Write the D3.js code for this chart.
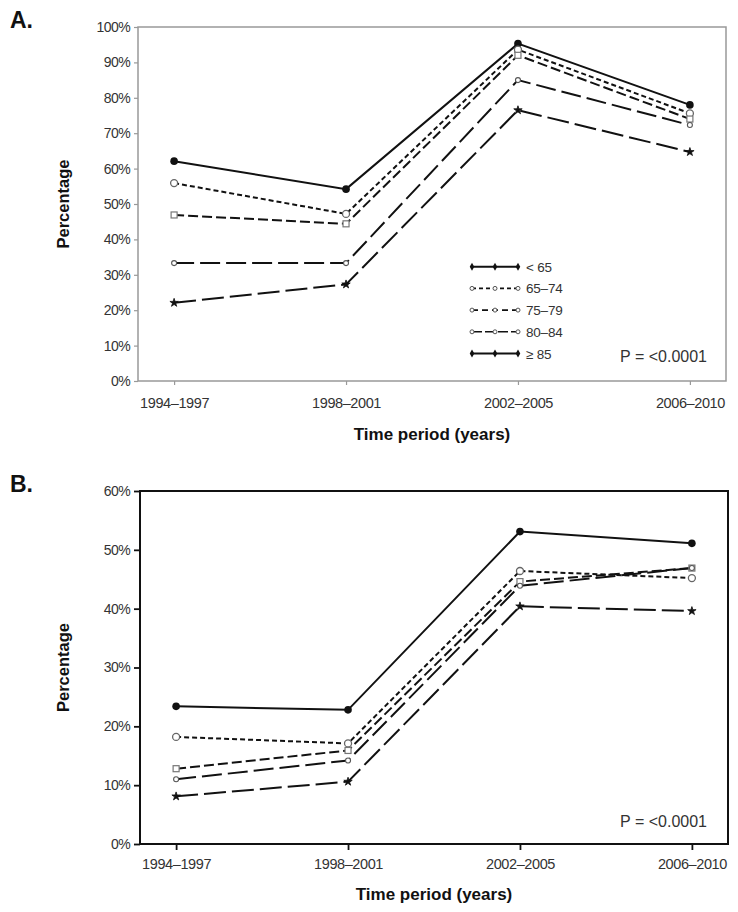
<!DOCTYPE html>
<html><head><meta charset="utf-8">
<script src="https://cdn.jsdelivr.net/npm/d3@7"></script>
<style>
body{margin:0;background:#fff;}
svg{display:block;font-family:"Liberation Sans",Arial,sans-serif;}
</style></head>
<body><svg id="c" width="738" height="912"></svg>
<script>
const periods = ["1994–1997","1998–2001","2002–2005","2006–2010"];
const groups = ["< 65","65–74","75–79","80–84","≥ 85"];
const valuesA_lt65 = [62.1, 54.2, 95.3, 78.0];
const valuesA_65_74 = [55.9, 47.2, 93.6, 75.6];
const valuesA_75_79 = [46.9, 44.4, 92.0, 74.0];
const valuesA_80_84 = [33.3, 33.3, 85.0, 72.3];
const valuesA_ge85 = [22.1, 27.3, 76.5, 64.7];
const valuesB_lt65 = [23.4, 22.8, 53.1, 51.1];
const valuesB_65_74 = [18.2, 17.1, 46.4, 45.2];
const valuesB_75_79 = [12.8, 15.9, 44.6, 46.9];
const valuesB_80_84 = [11.0, 14.2, 43.9, 46.9];
const valuesB_ge85 = [8.1, 10.6, 40.4, 39.6];
const ticksA = [0,10,20,30,40,50,60,70,80,90,100];
const ticksB = [0,10,20,30,40,50,60];
const pText = "P = <0.0001";

const styles = [
  {dash:null, marker:"fcircle"},
  {dash:"5,3", marker:"ocircle"},
  {dash:"10,4", marker:"osquare"},
  {dash:"20,6", marker:"osmall"},
  {dash:"22,6", marker:"fstar"}
];

const svg = d3.select("#c");

function drawMarker(g, type, x, y){
  if(type==="fcircle") g.append("circle").attr("cx",x).attr("cy",y).attr("r",3.8).attr("fill","#111");
  else if(type==="ocircle") g.append("circle").attr("cx",x).attr("cy",y).attr("r",3.5).attr("fill","#fff").attr("stroke","#666").attr("stroke-width",1.3);
  else if(type==="osquare") g.append("rect").attr("x",x-3).attr("y",y-3).attr("width",6).attr("height",6).attr("fill","#fff").attr("stroke","#777").attr("stroke-width",1.2);
  else if(type==="osmall") g.append("circle").attr("cx",x).attr("cy",y).attr("r",2.5).attr("fill","#fff").attr("stroke","#555").attr("stroke-width",1.1);
  else if(type==="fstar") g.append("path").attr("d",d3.symbol(d3.symbolStar, 22)()).attr("transform",`translate(${x},${y})`).attr("fill","#111").attr("stroke","#111").attr("stroke-width",0.8);
}

function panel(opts){
  const {left,right,top,bottom,max,ticks,data,frameColor,frameWidth,tickLen,label,xLabY,titleY,pY,legend,xPad} = opts;
  const x = d3.scalePoint().domain(periods).range([left,right]).padding(0.21);
  const y = d3.scaleLinear().domain([0,max]).range([bottom,top]);
  const g = svg.append("g");
  g.append("rect").attr("x",left).attr("y",top).attr("width",right-left).attr("height",bottom-top)
    .attr("fill","none").attr("stroke",frameColor).attr("stroke-width",frameWidth);
  const ya = g.append("g").attr("transform",`translate(${left},0)`)
    .call(d3.axisLeft(y).tickValues(ticks).tickFormat(d=>d+"%").tickSize(tickLen).tickPadding(4));
  ya.select(".domain").remove();
  ya.selectAll("line").attr("stroke",frameColor).attr("stroke-width",frameWidth>1.6?1.8:1.2);
  ya.selectAll("text").attr("font-size",14).attr("fill","#333").attr("font-family","Liberation Sans, Arial, sans-serif").attr("letter-spacing",-0.6);
  const xa = g.append("g").attr("transform",`translate(0,${bottom})`)
    .call(d3.axisBottom(x).tickSize(tickLen).tickPadding(xPad));
  xa.select(".domain").remove();
  xa.selectAll("line").attr("stroke",frameColor).attr("stroke-width",frameWidth>1.6?1.8:1.2);
  xa.selectAll("text").attr("font-size",14.5).attr("fill","#333").attr("font-family","Liberation Sans, Arial, sans-serif").attr("letter-spacing",-0.4);
  svg.append("text").attr("x",10).attr("y",titleY).attr("font-size",23).attr("font-weight","bold").attr("fill","#111").text(label);
  svg.append("text").attr("transform",`translate(69,${(top+bottom)/2}) rotate(-90)`).attr("text-anchor","middle")
    .attr("font-size",16.5).attr("font-weight","bold").attr("fill","#111").text("Percentage");
  svg.append("text").attr("x",(left+right)/2).attr("y",xLabY).attr("text-anchor","middle")
    .attr("font-size",17).attr("font-weight","bold").attr("fill","#111").text("Time period (years)");
  svg.append("text").attr("x",707).attr("y",pY).attr("text-anchor","end").attr("font-size",16).attr("fill","#333").text(pText);
  const line = d3.line().x((d,i)=>x(periods[i])).y(d=>y(d));
  data.forEach((vals,k)=>{
    g.append("path").attr("d",line(vals)).attr("fill","none").attr("stroke","#111").attr("stroke-width",2)
      .attr("stroke-dasharray",styles[k].dash);
  });
  data.forEach((vals,k)=>{
    vals.forEach((v,i)=>drawMarker(g, styles[k].marker, x(periods[i]), y(v)));
  });
  if(legend){
    const lx0 = 472, lx1 = 518;
    groups.forEach((name,k)=>{
      const ly = legend.y0 + k*legend.dy;
      g.append("line").attr("x1",lx0).attr("x2",lx1).attr("y1",ly).attr("y2",ly).attr("stroke","#111").attr("stroke-width",k===0||k===4?2:1.6)
        .attr("stroke-dasharray", k===0||k===4?null:(k===1?"4,3":k===2?"6,4":"10,3"));
      [lx0,(lx0+lx1)/2,lx1].forEach(mx=>{
        if(k===0||k===4) g.append("path").attr("d",d3.symbol(d3.symbolDiamond, 18)()).attr("transform",`translate(${mx},${ly})`).attr("fill","#111");
        else g.append("circle").attr("cx",mx).attr("cy",ly).attr("r",2).attr("fill","#fff").attr("stroke","#555").attr("stroke-width",1);
      });
      g.append("text").attr("x",526).attr("y",ly+5).attr("font-size",13.5).attr("fill","#333").attr("letter-spacing",-0.2).text(name);
    });
  }
}

panel({left:138,right:726,top:27,bottom:381,max:100,ticks:ticksA,
  data:[valuesA_lt65,valuesA_65_74,valuesA_75_79,valuesA_80_84,valuesA_ge85],
  frameColor:"#999",frameWidth:1.5,tickLen:4,label:"A.",titleY:28,xLabY:440,pY:362,xPad:13,
  legend:{y0:266.7,dy:21.7}});
panel({left:140,right:728,top:491,bottom:844,max:60,ticks:ticksB,
  data:[valuesB_lt65,valuesB_65_74,valuesB_75_79,valuesB_80_84,valuesB_ge85],
  frameColor:"#111",frameWidth:2,tickLen:6,label:"B.",titleY:492,xLabY:900,pY:827,xPad:9,legend:null});
</script></body></html>
